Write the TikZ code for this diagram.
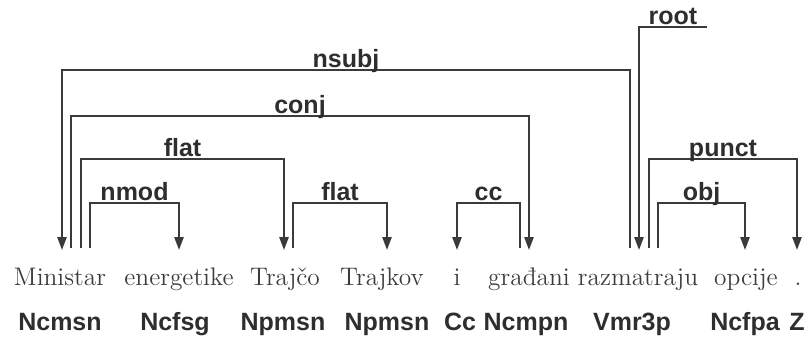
\documentclass[tikz,border=0pt]{standalone}
\usepackage{fontspec}
\newfontfamily\sansfam{Liberation Sans}
\usetikzlibrary{arrows.meta}
\definecolor{linec}{HTML}{3A3A3A}
\definecolor{labc}{HTML}{2E2E2E}
\definecolor{wordc}{HTML}{3C3C3C}
\tikzset{
  word/.style={anchor=base, inner sep=0pt, text=wordc, font=\fontsize{12.7}{14}\selectfont},
  postag/.style={anchor=base, inner sep=0pt, text=labc, font=\sansfam\bfseries\fontsize{12.5}{14}\selectfont},
  deplab/.style={anchor=base, inner sep=0pt, yshift=1.5pt, text=labc, font=\sansfam\bfseries\fontsize{12.5}{14}\selectfont},
  deparc/.style={draw=linec, line width=1pt, line join=miter, -{Triangle[length=6.5pt,width=4.6pt]}},
}
\begin{document}
\begin{tikzpicture}[x=0.5pt, y=-0.5pt]
\useasboundingbox (0,0) rectangle (809,339);
% words
\node[word] (w1) at (60,285) {Ministar};
\node[word] (w2) at (179,285) {energetike};
\node[word] (w3) at (285,285) {Trajčo};
\node[word] (w4) at (382,285) {Trajkov};
\node[word] (w5) at (457,285) {i};
\node[word] (w6) at (529,285) {građani};
\node[word] (w7) at (638,285) {razmatraju};
\node[word] (w8) at (746,285) {opcije};
\node[word] (w9) at (798,285) {.};
% tags
\node[postag] (t1) at (60,330) {Ncmsn};
\node[postag] (t2) at (175,330) {Ncfsg};
\node[postag] (t3) at (283,330) {Npmsn};
\node[postag] (t4) at (387,330) {Npmsn};
\node[postag] (t5) at (460,330) {Cc};
\node[postag] (t6) at (526,330) {Ncmpn};
\node[postag] (t7) at (632,330) {Vmr3p};
\node[postag] (t8) at (745,330) {Ncfpa};
\node[postag] (t9) at (797,330) {Z};
% arc end points (heads end at 248, dependents' tips at 250)
\coordinate (w1-conj) at (71,248);
\coordinate (w1-flat) at (81,248);
\coordinate (w1-nmod) at (90,248);
\coordinate (w1-in) at (62,250);
\coordinate (w2-in) at (179,250);
\coordinate (w3-in) at (284,250);
\coordinate (w3-flat) at (293,248);
\coordinate (w4-in) at (387,250);
\coordinate (w5-in) at (457,250);
\coordinate (w6-cc) at (520,248);
\coordinate (w6-in) at (529,250);
\coordinate (w7-nsubj) at (630,248);
\coordinate (w7-in) at (639,250);
\coordinate (w7-punct) at (649,248);
\coordinate (w7-obj) at (658,248);
\coordinate (w8-in) at (745,250);
\coordinate (w9-in) at (797,250);
\coordinate (rootend) at (707,27);
% arcs
\draw[deparc] (w7-nsubj) -- ++(0,-178) -| node[deplab, pos=.25] {nsubj} (w1-in);
\draw[deparc] (w1-conj) -- ++(0,-132) -| node[deplab, pos=.25] {conj} (w6-in);
\draw[deparc] (w1-flat) -- ++(0,-89) -| node[deplab, pos=.25] {flat} (w3-in);
\draw[deparc] (w1-nmod) -- ++(0,-45) -| node[deplab, pos=.25] {nmod} (w2-in);
\draw[deparc] (w3-flat) -- ++(0,-45) -| node[deplab, pos=.25] {flat} (w4-in);
\draw[deparc] (w6-cc) -- ++(0,-45) -| node[deplab, pos=.25] {cc} (w5-in);
\draw[deparc] (rootend) -| node[deplab, pos=.25] {root} (w7-in);
\draw[deparc] (w7-punct) -- ++(0,-89) -| node[deplab, pos=.25] {punct} (w9-in);
\draw[deparc] (w7-obj) -- ++(0,-45) -| node[deplab, pos=.25] {obj} (w8-in);
\end{tikzpicture}
\end{document}
